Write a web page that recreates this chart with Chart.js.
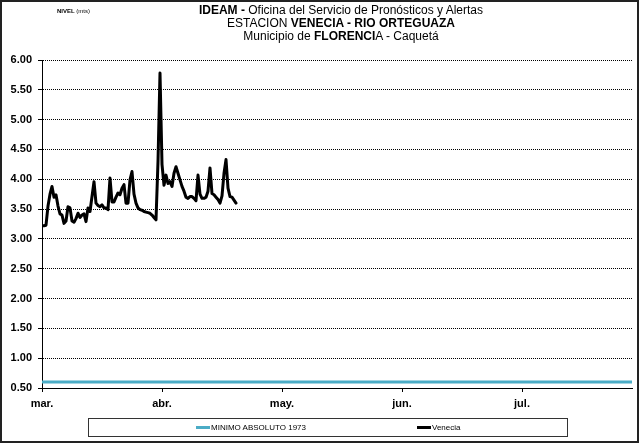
<!DOCTYPE html>
<html>
<head>
<meta charset="utf-8">
<script src="https://cdn.jsdelivr.net/npm/chart.js@4.4.0/dist/chart.umd.min.js"></script>
<style>
  body { margin: 0; background: #fff; }
  #wrap { position: relative; width: 639px; height: 443px; overflow: hidden; }
  #chart { position: absolute; left: 0; top: 0; }
  .frame { position: absolute; left: 0; top: 0; width: 639px; height: 443px; box-sizing: border-box; border: 2px solid #222; pointer-events: none; }
  .narrow { font-family: "Liberation Sans Narrow", "Liberation Sans", Arial, sans-serif; }
  .nivel { position: absolute; left: 57px; top: 8px; font-size: 6px; color: #000; }
  .title { position: absolute; left: 141px; top: 4px; width: 400px; text-align: center; font-size: 12px; line-height: 13px; color: #000; }
  .legend { position: absolute; left: 88px; top: 418px; width: 480px; height: 19px; box-sizing: border-box; border: 1px solid #333; font-size: 8px; }
  .item { position: absolute; top: 4px; height: 10px; line-height: 10px; white-space: nowrap; }
  .item span.mark { display: inline-block; width: 14px; height: 3px; vertical-align: middle; margin-right: 1px; }
</style>
</head>
<body>
<div id="wrap">
  <canvas id="chart" width="639" height="443"></canvas>
  <div class="nivel narrow"><b>NIVEL</b> (mts)</div>
  <div class="title narrow">
    <div><b>IDEAM -</b> Oficina del Servicio de Pronósticos y Alertas</div>
    <div>ESTACION <b>VENECIA - RIO ORTEGUAZA</b></div>
    <div>Municipio de <b>FLORENCI</b>A - Caquetá</div>
  </div>
  <div class="legend narrow" id="legend"></div>
  <div class="frame"></div>
</div>
<script>
// eje x: dias desde el 1 de marzo
const monthLabels = ['mar.', 'abr.', 'may.', 'jun.', 'jul.'];
const monthTicks = [0, 30, 60, 90, 120];
const xMax = 147.5;
const yTicks = [0.5, 1.0, 1.5, 2.0, 2.5, 3.0, 3.5, 4.0, 4.5, 5.0, 5.5, 6.0];

const seriesNames = ['MINIMO ABSOLUTO 1973', 'Venecia'];
const seriesColors = ['#4bacc6', '#000000'];

// minimo absoluto 1973
const minimoDays = [0, 147.5];
const minimoLevel = [0.60, 0.60];

// nivel Venecia (mts)
const veneciaDays = [
  0, 0.5, 1, 1.5, 2, 2.5, 3, 3.5, 4, 4.5,
  5, 5.5, 6, 6.5, 7, 7.5, 8, 8.5, 9, 9.5,
  10, 10.5, 11, 11.5, 12, 12.5, 13, 13.5, 14, 14.5,
  15, 15.5, 16, 16.5, 17, 17.5, 18, 18.5, 19, 19.5,
  20, 20.5, 21, 21.5, 22, 22.5, 23, 23.5, 24, 24.5,
  25, 25.5, 26, 26.5, 27, 27.5, 28, 28.5, 29, 29.5,
  30, 30.5, 31, 31.5, 32, 32.5, 33, 33.5, 34, 34.5,
  35, 35.5, 36, 36.5, 37, 37.5, 38, 38.5, 39, 39.5,
  40, 40.5, 41, 41.5, 42, 42.5, 43, 43.5, 44, 44.5,
  45, 45.5, 46, 46.5, 47, 47.5, 48, 48.5
];
const veneciaLevel = [
  3.22, 3.22, 3.23, 3.55, 3.75, 3.88, 3.70, 3.74, 3.55, 3.42,
  3.40, 3.26, 3.30, 3.54, 3.52, 3.30, 3.28, 3.34, 3.43, 3.36,
  3.40, 3.42, 3.29, 3.52, 3.46, 3.71, 3.96, 3.60, 3.56, 3.54,
  3.57, 3.52, 3.52, 3.49, 4.02, 3.62, 3.62, 3.70, 3.77, 3.74,
  3.85, 3.91, 3.60, 3.60, 3.99, 4.13, 3.75, 3.60, 3.52, 3.49,
  3.48, 3.46, 3.45, 3.44, 3.43, 3.40, 3.36, 3.32, 4.30, 5.78,
  4.25, 3.90, 4.07, 3.93, 3.96, 3.88, 4.10, 4.21, 4.10, 3.99,
  3.88, 3.80, 3.70, 3.68, 3.71, 3.71, 3.68, 3.64, 4.07, 3.75,
  3.68, 3.68, 3.70, 3.80, 4.19, 3.76, 3.74, 3.70, 3.66, 3.60,
  3.72, 4.10, 4.33, 3.85, 3.71, 3.70, 3.65, 3.60
];

const toPoints = (xs, ys) => xs.map((x, i) => ({x: x, y: ys[i]}));

// leyenda en caja, como en el original
const legendPos = [196, 417];
const legend = document.getElementById('legend');
seriesNames.forEach((name, i) => {
  const d = document.createElement('div');
  d.className = 'item';
  d.style.left = (legendPos[i] - 89) + 'px';
  d.innerHTML = '<span class="mark" style="background:' + seriesColors[i] + '"></span>' + name;
  legend.appendChild(d);
});

Chart.defaults.font.family = '"Liberation Sans", Arial, sans-serif';
Chart.defaults.color = '#000';

const chart = new Chart(document.getElementById('chart'), {
  type: 'line',
  data: {
    datasets: [{
      label: seriesNames[0],
      data: toPoints(minimoDays, minimoLevel),
      borderColor: seriesColors[0],
      borderWidth: 3,
      pointRadius: 0
    }, {
      label: seriesNames[1],
      data: toPoints(veneciaDays, veneciaLevel),
      borderColor: seriesColors[1],
      borderWidth: 3,
      borderJoinStyle: 'round',
      borderCapStyle: 'round',
      pointRadius: 0,
      tension: 0
    }]
  },
  options: {
    responsive: false,
    animation: false,
    layout: { padding: { left: 0, right: 7, top: 60, bottom: 33 } },
    plugins: { legend: { display: false }, tooltip: { enabled: false } },
    scales: {
      x: {
        type: 'linear',
        min: 0,
        max: xMax,
        afterFit: s => { s.height = 22; },
        afterBuildTicks: s => { s.ticks = monthTicks.map(v => ({value: v})); },
        ticks: {
          autoSkip: false,
          maxRotation: 0,
          padding: 5,
          font: { size: 11, weight: 'bold' },
          callback: v => monthLabels[monthTicks.indexOf(v)]
        },
        grid: { drawOnChartArea: false, drawTicks: true, tickLength: 4, color: '#000' },
        border: { color: '#000', width: 1 }
      },
      y: {
        min: 0.5,
        max: 6,
        afterFit: s => { s.width = 42; },
        afterBuildTicks: s => { s.ticks = yTicks.map(v => ({value: v})); },
        ticks: {
          padding: 6,
          font: { size: 11, weight: 'bold' },
          callback: v => v.toFixed(2)
        },
        grid: { color: '#000', tickLength: 4, tickColor: '#000' },
        border: { color: '#000', width: 1, dash: [1, 1] }
      }
    }
  }
});
</script>
</body>
</html>
